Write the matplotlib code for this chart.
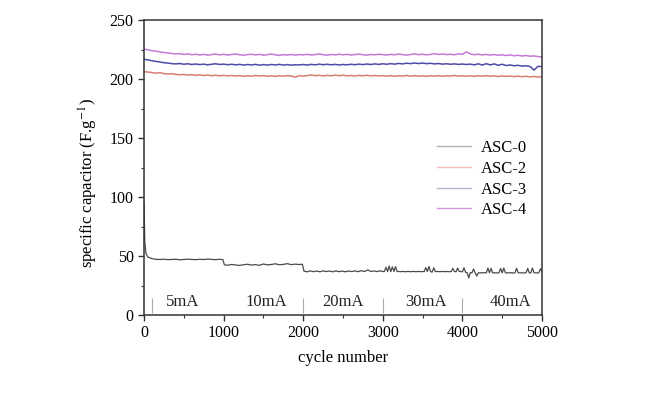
import matplotlib
matplotlib.use("Agg")
import matplotlib.pyplot as plt
from matplotlib.lines import Line2D
from matplotlib.ticker import MultipleLocator

plt.rcParams['font.family'] = ['Liberation Serif', 'DejaVu Serif']
plt.rcParams['mathtext.fontset'] = 'stix'

# ---------------- data ----------------
cycles = list(range(0, 5001, 50))

asc4 = [225.5, 224.8, 224.0, 223.6, 223.0, 222.4, 222.1, 221.6, 221.2, 221.5, 220.8, 221.3, 220.6, 221.0, 220.4, 220.9, 220.2, 220.7, 221.1, 220.5, 220.9,
        220.3, 220.8, 221.2, 220.6, 220.1, 220.7, 221.0, 220.4, 220.9, 220.2, 220.6, 221.1, 220.5, 220.0, 220.6, 220.3, 220.8, 220.2, 220.7, 220.4,
        220.9, 220.3, 220.7, 221.2, 220.6, 220.2, 220.8, 220.4, 221.0, 220.5, 220.9, 220.3, 220.7, 221.1, 220.6, 220.2, 220.8, 220.5, 221.0, 220.6,
        220.3, 220.9, 220.5, 221.1, 220.7, 220.2, 220.8, 221.3, 220.6, 221.0, 220.4, 220.9, 221.4, 220.8, 221.2, 220.7, 221.0, 220.5, 221.3, 220.9,
        223.0, 221.2, 220.6, 221.0, 220.4, 220.8, 220.2, 220.7, 220.1, 220.5, 219.9, 220.4, 219.7, 220.1, 219.5, 219.9, 219.3, 219.6, 219.0, 218.7]

asc3 = [216.8, 216.2, 215.5, 214.9, 214.4, 213.8, 213.5, 213.0, 212.8, 213.1, 212.5, 212.9, 212.3, 212.7, 212.2, 212.6, 212.0, 212.5, 212.9, 212.3, 212.6,
        212.1, 212.5, 212.0, 212.4, 211.8, 212.3, 211.9, 212.4, 211.7, 212.2, 211.8, 212.3, 211.9, 212.4, 211.8, 212.2, 211.7, 212.1, 211.9, 212.3,
        211.8, 212.4, 212.0, 212.6, 212.1, 212.5, 212.0, 212.4, 211.9, 212.3, 212.0, 212.5, 212.1, 212.6, 212.2, 212.7, 212.3, 212.8, 212.4, 212.9,
        212.5, 213.0, 212.6, 213.2, 212.8, 213.4, 213.0, 213.6, 213.1, 213.5, 213.0, 213.3, 212.8, 213.1, 212.6, 212.9, 212.5, 212.8, 212.4, 212.7,
        212.3, 212.6, 212.0, 212.9, 211.8, 213.0, 211.9, 212.8, 211.6, 212.5, 211.4, 211.9, 211.2, 211.6, 210.9, 211.2, 210.6, 207.5, 210.8, 210.4]

asc2 = [206.2, 205.9, 205.5, 205.0, 205.3, 204.6, 204.2, 204.5, 203.9, 203.6, 203.9, 203.3, 203.7, 203.1, 203.5, 202.9, 203.4, 202.8, 203.2, 202.7, 203.1,
        202.6, 203.0, 202.5, 202.9, 202.3, 202.8, 202.4, 203.0, 202.5, 202.9, 202.3, 202.7, 202.2, 202.8, 202.4, 202.9, 202.5, 201.6, 202.8, 202.4,
        202.9, 203.4, 202.8, 203.2, 202.6, 203.1, 202.7, 203.3, 202.8, 203.2, 202.6, 203.0, 202.5, 203.1, 202.7, 203.2, 202.6, 203.0, 202.5, 202.9,
        202.4, 202.9, 202.3, 202.8, 202.5, 203.0, 202.4, 202.9, 202.3, 202.7, 202.2, 202.8, 202.4, 202.9, 202.3, 202.8, 202.5, 203.0, 202.4, 202.8,
        202.3, 202.7, 202.2, 202.8, 202.4, 202.9, 202.3, 202.7, 202.1, 202.6, 202.2, 202.5, 202.0, 202.4, 201.9, 202.3, 201.8, 202.2, 201.7, 201.9]

cycles0 = ([0, 10, 25, 50, 100, 150, 200, 250, 300, 350, 400, 450, 500, 550, 600, 650, 700, 750, 800, 850, 900, 950, 990,
            1010, 1050, 1100, 1150, 1200, 1250, 1300, 1350, 1400, 1450, 1500, 1550, 1600, 1650, 1700, 1750, 1800, 1850, 1900, 1950, 1990]
           + list(range(2010, 3000, 40))
           + list(range(3000, 5001, 20)))

asc0 = ([96.0, 62.0, 52.0, 49.0, 47.8, 47.2, 47.0, 47.3, 46.9, 47.1, 47.2, 46.8, 47.0, 47.3, 47.1, 46.9, 47.2, 47.0, 47.4, 47.1, 46.9, 47.2, 47.0,
         42.5, 42.2, 42.8, 42.4, 42.0, 42.6, 43.0, 42.3, 42.7, 42.1, 43.2, 42.5, 42.8, 43.4, 42.6, 42.9, 43.5, 42.7, 43.1, 42.8, 43.0]
        + [37.2, 36.6, 37.4, 36.7, 37.3, 36.6, 37.4, 36.8, 37.3, 36.6, 37.4, 36.7, 37.2, 36.6, 37.3, 36.8, 37.4, 36.7, 37.6, 36.8, 38.2, 36.9, 37.3, 36.8, 37.5]
        + [36.8, 36.9, 40.5, 36.8, 41.5, 36.7, 40.8, 36.9, 41.0, 36.8, 36.9, 36.7, 36.8, 36.9, 36.7, 36.8, 36.9, 36.7, 36.8, 36.9,
           36.8, 36.7, 36.9, 36.8, 36.7, 36.9, 36.8, 40.2, 36.8, 41.2, 36.7, 36.4, 40.0, 36.8, 36.9, 36.8, 36.7, 36.9, 36.8, 36.7,
           36.9, 36.8, 36.7, 36.9, 39.5, 36.8, 36.7, 39.8, 36.9, 36.8, 36.6, 40.0, 36.2, 35.8, 31.5, 36.0, 35.7, 39.0, 35.8, 33.0,
           35.8, 35.6, 35.8, 35.7, 35.9, 35.7, 39.8, 35.8, 39.5, 35.7, 35.8, 35.6, 35.7, 35.8, 39.5, 35.7, 39.8, 35.8, 35.6, 35.8,
           35.7, 35.8, 35.6, 35.7, 39.6, 35.8, 35.7, 35.8, 35.6, 35.7, 35.8, 39.5, 35.7, 35.6, 39.8, 35.8, 35.7, 35.6, 35.8, 39.2, 36.5])

current_labels = ['5mA', '10mA', '20mA', '30mA', '40mA']
current_label_pos = [490, 1540, 2500, 3540, 4600]
dividers = [100, 2000, 3000, 4000]

series_names = ['ASC-0', 'ASC-2', 'ASC-3', 'ASC-4']
line_colors = ['#4a4a4a', '#d97f70', '#4c4ca8', '#c47ad6']
legend_colors = ['#b0b0b0', '#f2b9b9', '#b4b6cc', '#cf96dc']

# ---------------- figure ----------------
fig = plt.figure(figsize=(6.72, 3.97), dpi=100)
ax = fig.add_axes([144 / 672, 1 - 315 / 397, 398 / 672, 295 / 397])

ax.plot(cycles0, asc0, color=line_colors[0], lw=0.9)
ax.plot(cycles, asc2, color=line_colors[1], lw=1.1)
ax.plot(cycles, asc3, color=line_colors[2], lw=1.1)
ax.plot(cycles, asc4, color=line_colors[3], lw=1.1)

ax.vlines(dividers, 1.5, 14.5, color='#aaaaaa', lw=0.8)
for lab, xp in zip(current_labels, current_label_pos):
    ax.text(xp, 4.0, lab, ha='center', va='bottom', fontsize=12, color='#222222')

ax.set_xlim(0, 5000)
ax.set_ylim(0, 250)
ax.xaxis.set_major_locator(MultipleLocator(1000))
ax.xaxis.set_minor_locator(MultipleLocator(500))
ax.yaxis.set_major_locator(MultipleLocator(50))
ax.yaxis.set_minor_locator(MultipleLocator(25))
ax.tick_params(which='both', direction='out', top=False, right=False, labelsize=11.5, color='#333333')
ax.tick_params(which='major', length=4, width=1)
ax.tick_params(which='minor', length=2.5, width=0.8)
for s in ax.spines.values():
    s.set_linewidth(1.1)
    s.set_color('#333333')

ax.set_xlabel('cycle number', fontsize=12, labelpad=6)
ax.set_ylabel(r'specific capacitor (F.g$^{-1}$)', fontsize=12)
ax.yaxis.set_label_coords(-0.11, 0.447)

handles = [Line2D([0], [0], color=c, lw=1.0) for c in legend_colors]
ax.legend(handles, series_names, loc='upper left', bbox_to_anchor=(0.72, 0.615),
          frameon=False, fontsize=12, handlelength=2.0, handletextpad=0.6,
          labelspacing=0.28, borderaxespad=0)

fig.savefig('out.png', dpi=100)
